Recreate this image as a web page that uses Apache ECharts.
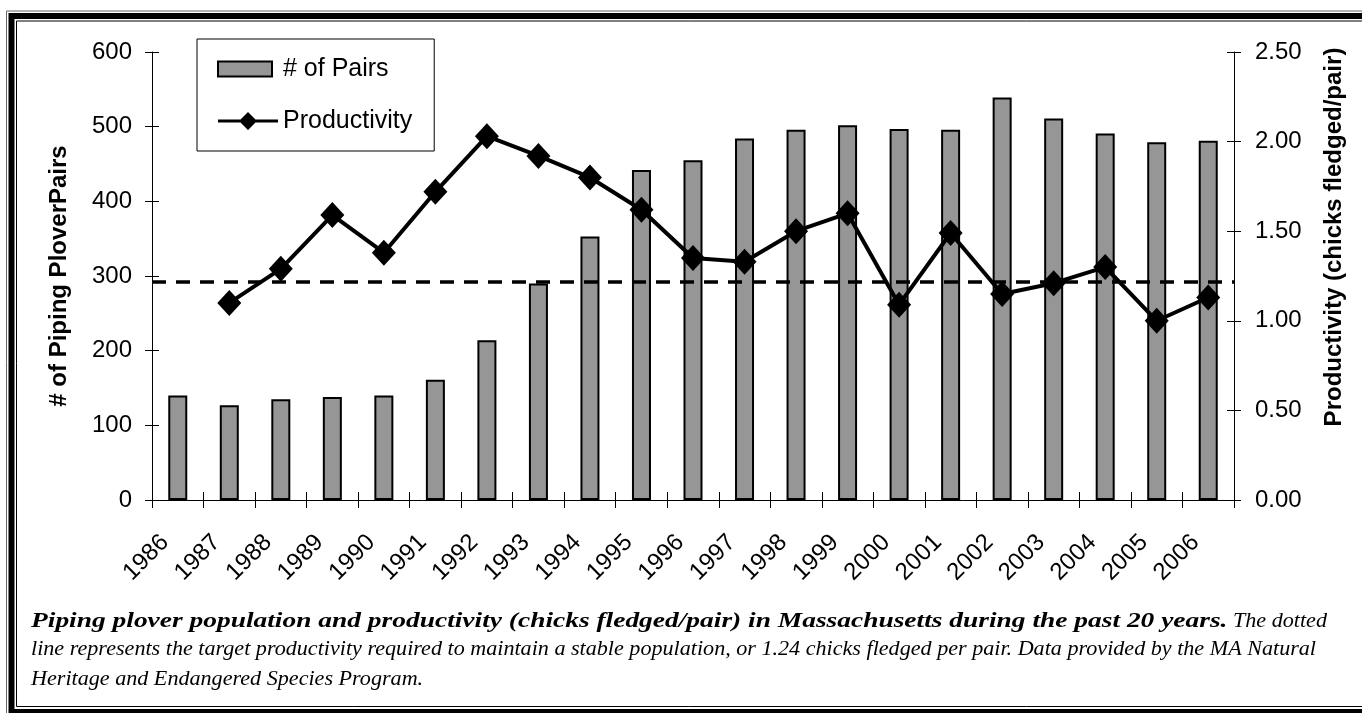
<!DOCTYPE html>
<html>
<head>
<meta charset="utf-8">
<script src="https://cdn.jsdelivr.net/npm/echarts@6/dist/echarts.min.js"></script>
<style>
html,body{margin:0;padding:0;background:#fff;}
#chart{width:1362px;height:713px;}
</style>
</head>
<body>
<div id="chart"></div>
<script>
const years = ['1986','1987','1988','1989','1990','1991','1992','1993','1994','1995','1996','1997','1998','1999','2000','2001','2002','2003','2004','2005','2006'];
const pairs = [140,127,135,138,140,161,214,290,353,442,455,484,496,502,497,496,539,511,491,479,481];
const productivity = [null,1.10,1.29,1.59,1.38,1.72,2.03,1.92,1.80,1.62,1.35,1.33,1.50,1.60,1.09,1.49,1.15,1.21,1.30,1.00,1.13];
const targetProductivity = 1.22;
const leftTicks = {min:0, max:600, interval:100};
const rightTicks = {min:0, max:2.5, interval:0.5};
const leftName = '# of Piping PloverPairs';
const rightName = 'Productivity (chicks fledged/pair)';
const captionBold = 'Piping plover population and productivity (chicks fledged/pair) in Massachusetts during the past 20 years.';
const captionRest1 = 'The dotted';
const captionLine2 = 'line represents the target productivity required to maintain a stable population, or 1.24 chicks fledged per pair. Data provided by the MA Natural';
const captionLine3 = 'Heritage and Endangered Species Program.';

const SANS = '"Liberation Sans", Arial, sans-serif';
const SERIF = '"Liberation Serif", "Times New Roman", serif';

const ctx = document.createElement('canvas').getContext('2d');
function measure(text, font){ ctx.font = font; return ctx.measureText(text).width; }
const capSize = 20;
const fontBI = 'italic bold ' + capSize + 'px ' + SERIF;
const fontI = 'italic ' + capSize + 'px ' + SERIF;
const capLeft = 31, capRight1 = 1327, capRight2 = 1316;
const capScale = (capRight2 - capLeft) / measure(captionLine2, fontI);
const restW = measure(captionRest1, fontI) * capScale;
const spaceW = measure(' ', fontI) * capScale;
const boldW = capRight1 - capLeft - restW - spaceW;
const boldScale = boldW / measure(captionBold, fontBI);

function capText(text, x, y, bold, sx){
  return {
    type:'text', x:x, y:y, scaleX:sx, scaleY:1, silent:true,
    style:{text:text, fontFamily:SERIF, fontSize:capSize, fontStyle:'italic',
      fontWeight: bold ? 'bold' : 'normal', fill:'#000', align:'left', verticalAlign:'middle',
      textAlign:'left', textVerticalAlign:'middle'}
  };
}

const chart = echarts.init(document.getElementById('chart'), null, {renderer:'canvas'});

const yBase = {
  type:'value', splitLine:{show:false},
  axisLine:{show:true, lineStyle:{color:'#000', width:1}},
  axisTick:{show:true, length:7, lineStyle:{color:'#000', width:1}}
};

const barIcon = 'path://M0,0 M60,18 M0,1.5 L54,1.5 L54,16.5 L0,16.5 Z';
const lineIcon = 'path://M0,7.5 L22.5,7.5 L30,0 L37.5,7.5 L60,7.5 L60,10.5 L37.5,10.5 L30,18 L22.5,10.5 L0,10.5 Z';

chart.setOption({
  animation:false,
  backgroundColor:'#fff',
  grid:{left:152, right:128, top:52, bottom:213, containLabel:false},
  legend:{
    orient:'vertical', left:197, top:39,
    padding:[15,22,15,20],
    itemWidth:60, itemHeight:18, itemGap:22, symbolKeepAspect:true,
    borderColor:'#000', borderWidth:1, backgroundColor:'#fff',
    textStyle:{fontFamily:SANS, fontSize:25, color:'#000', lineHeight:30},
    data:[
      {name:'# of Pairs', icon:barIcon, itemStyle:{color:'#969696', borderColor:'#000', borderWidth:2}},
      {name:'Productivity', icon:lineIcon, itemStyle:{color:'#000', borderWidth:0}}
    ]
  },
  xAxis:[{
    type:'category', data:years, position:'bottom',
    axisLine:{show:true, lineStyle:{color:'#000', width:1}},
    axisTick:{show:true, length:8, lineStyle:{color:'#000'}},
    axisLabel:{rotate:45, margin:26, padding:[0,18,0,0], fontFamily:SANS, fontSize:24, color:'#000', interval:0}
  },{
    type:'category', data:years, position:'bottom',
    axisLine:{show:false}, axisLabel:{show:false},
    axisTick:{show:true, inside:true, length:8, lineStyle:{color:'#000'}}
  }],
  yAxis:[
    Object.assign({}, yBase, {
      position:'left', min:leftTicks.min, max:leftTicks.max, interval:leftTicks.interval,
      name:leftName, nameLocation:'middle', nameRotate:90, nameGap:81,
      nameTextStyle:{fontFamily:SANS, fontSize:24, fontWeight:'bold', color:'#000'},
      axisLabel:{margin:20, fontFamily:SANS, fontSize:24, color:'#000'}
    }),
    Object.assign({}, yBase, {
      position:'right', min:rightTicks.min, max:rightTicks.max, interval:rightTicks.interval,
      name:rightName, nameLocation:'middle', nameRotate:90, nameGap:88,
      nameTextStyle:{fontFamily:SANS, fontSize:24, fontWeight:'bold', color:'#000', padding:[0,0,0,78]},
      axisLabel:{margin:21, fontFamily:SANS, fontSize:24, color:'#000', formatter:function(v){return v.toFixed(2);}}
    }),
    {type:'value', position:'left', min:leftTicks.min, max:leftTicks.max, interval:leftTicks.interval,
      splitLine:{show:false}, axisLine:{show:false}, axisLabel:{show:false},
      axisTick:{show:true, inside:true, length:7, lineStyle:{color:'#000'}}},
    {type:'value', position:'right', min:rightTicks.min, max:rightTicks.max, interval:rightTicks.interval,
      splitLine:{show:false}, axisLine:{show:false}, axisLabel:{show:false},
      axisTick:{show:true, inside:true, length:7, lineStyle:{color:'#000'}}}
  ],
  series:[{
    name:'# of Pairs', type:'bar', data:pairs, xAxisIndex:0, yAxisIndex:0,
    barWidth:19,
    itemStyle:{color:'#969696', borderColor:'#000', borderWidth:2}
  },{
    name:'Productivity', type:'line', data:productivity, xAxisIndex:0, yAxisIndex:1,
    connectNulls:false,
    symbol:'diamond', symbolSize:[24,26], showSymbol:true,
    lineStyle:{color:'#000', width:4},
    itemStyle:{color:'#000'},
    z:5,
    markLine:{
      silent:true, symbol:['none','none'], label:{show:false},
      lineStyle:{color:'#000', width:3.5, type:[14,10]},
      data:[{yAxis:targetProductivity}]
    }
  }],
  graphic:[
    {type:'rect', silent:true, shape:{x:6.5, y:11, width:1400, height:800}, style:{fill:null, stroke:'#666', lineWidth:1}},
    {type:'rect', silent:true, shape:{x:11.5, y:16, width:1400, height:696}, style:{fill:null, stroke:'#000', lineWidth:6}},
    {type:'rect', silent:true, shape:{x:16.5, y:21, width:1400, height:685.5}, style:{fill:null, stroke:'#000', lineWidth:1}},
    capText(captionBold, capLeft, 621.7, true, boldScale),
    capText(captionRest1, capRight1 - restW, 621.7, false, capScale),
    capText(captionLine2, capLeft, 650, false, capScale),
    capText(captionLine3, capLeft, 679.3, false, capScale)
  ]
});
</script>
</body>
</html>
